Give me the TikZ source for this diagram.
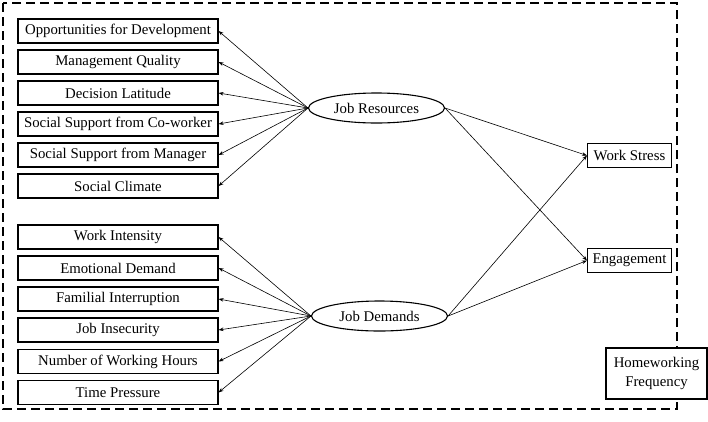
\documentclass[tikz,border=0pt]{standalone}
\usepackage{fontspec}
\setmainfont{Liberation Serif}
\usetikzlibrary{shapes.geometric,arrows.meta}
\begin{document}
\begin{tikzpicture}[x=1pt,y=-1pt,
  every node/.style={font=\fontsize{14.8}{16}\selectfont},
  ind/.style={draw,line width=1.1pt,minimum width=200pt,minimum height=24pt,inner sep=0pt},
  outc/.style={draw,line width=1.1pt,minimum width=84pt,minimum height=24pt,inner sep=0pt},
  lat/.style={draw,ellipse,line width=1.1pt,minimum width=136pt,minimum height=30pt,inner sep=0pt},
  link/.style={line width=0.6pt,-{Stealth[length=5pt,width=3.6pt]}}]
\useasboundingbox (0,0) rectangle (708,421);
\draw[line width=1.8pt,dash pattern=on 9pt off 5pt] (3,3) rectangle (677,409);
% left indicators
\node[ind] (r1) at (118,31) {Opportunities for Development};
\node[ind] (r2) at (118,62) {Management Quality};
\node[ind] (r3) at (118,93) {Decision Latitude};
\node[ind] (r4) at (118,124) {Social Support from Co-worker};
\node[ind] (r5) at (118,155) {Social Support from Manager};
\node[ind] (r6) at (118,186) {Social Climate};
\node[ind] (d1) at (118,237) {Work Intensity};
\node[ind] (d2) at (118,268) {Emotional Demand};
\node[ind] (d3) at (118,299) {Familial Interruption};
\node[ind] (d4) at (118,330) {Job Insecurity};
\node[ind] (d5) at (118,361.5) {Number of Working Hours};
\node[ind] (d6) at (118,392.5) {Time Pressure};
% latent
\node[lat] (jr) at (376.5,108) {Job Resources};
\node[lat] (jd) at (379.5,316) {Job Demands};
% outcomes
\node[outc] (ws) at (629.5,155.5) {Work Stress};
\node[outc] (en) at (629.5,260.5) {Engagement};
\node[draw,fill=white,line width=1.1pt,minimum width=101pt,minimum height=51pt,inner sep=0pt,align=center,font=\fontsize{14.8}{19}\selectfont] (hf) at (656.5,373.5) {Homeworking\\Frequency};
% links
\foreach \n in {r1,r2,r3,r4,r5,r6} \draw[link] (jr.west) -- (\n.east);
\foreach \n in {d1,d2,d3,d4,d5,d6} \draw[link] (jd.west) -- (\n.east);
\draw[link] (jr.east) -- (ws.west);
\draw[link] (jr.east) -- (en.west);
\draw[link] (jd.east) -- (ws.west);
\draw[link] (jd.east) -- (en.west);
\end{tikzpicture}
\end{document}
